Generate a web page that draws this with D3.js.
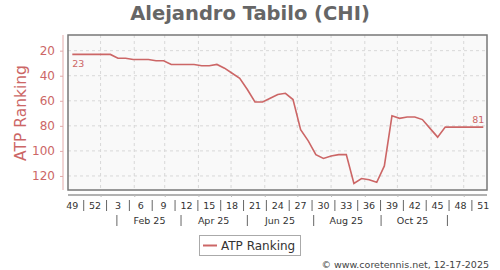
<!DOCTYPE html>
<html>
<head>
<meta charset="utf-8">
<script src="https://cdn.jsdelivr.net/npm/d3@7"></script>
<style>
  body { margin: 0; background: #fff; }
  svg { display: block; font-family: "DejaVu Sans", sans-serif; }
</style>
</head>
<body>
<svg id="chart" width="500" height="270"></svg>
<script>
// week numbers shown on the x axis (Dec 2024 .. Dec 2025)
const weeks = [49, 50, 51, 52, 1, 2, 3, 4, 5, 6, 7, 8, 9, 10, 11, 12, 13, 14, 15, 16,
  17, 18, 19, 20, 21, 22, 23, 24, 25, 26, 27, 28, 29, 30, 31, 32, 33, 34, 35, 36,
  37, 38, 39, 40, 41, 42, 43, 44, 45, 46, 47, 48, 49, 50, 51]
const ranking = [23, 23, 23, 23, 23, 23, 26, 26, 27, 27, 27, 28, 28, 31, 31, 31, 31, 32, 32, 31,
  34, 38, 42, 51, 61, 61, 58, 55, 54, 59, 83, 92, 103, 106, 104, 103, 103, 126, 122, 123,
  125, 112, 72, 74, 73, 73, 75, 82, 89, 81, 81, 81, 81, 81, 81]
const yTicks = [20, 40, 60, 80, 100, 120]
const monthLabels = ['Feb 25', 'Apr 25', 'Jun 25', 'Aug 25', 'Oct 25']
const firstWeek = new Date(2024, 11, 6)

const red = '#cc6666'
const svg = d3.select('#chart')

const dates = weeks.map((w, i) => d3.timeDay.offset(firstWeek, 7 * i))
const x = d3.scaleTime().domain([dates[0], dates[dates.length - 1]]).range([72.3, 483.3])
const y = d3.scaleLinear().domain([7.5, 131.2]).range([35, 190])

const plot = { left: 68, right: 487, top: 35, bottom: 190 }

// title
svg.append('text')
  .attr('x', 250).attr('y', 20)
  .attr('text-anchor', 'middle')
  .attr('font-size', 19.5).attr('font-weight', 'bold')
  .attr('fill', '#666')
  .text('Alejandro Tabilo (CHI)')

// plot background
svg.append('rect')
  .attr('x', plot.left).attr('y', plot.top)
  .attr('width', plot.right - plot.left).attr('height', plot.bottom - plot.top)
  .attr('fill', '#f9f9f9')

// grid
const monthTicks = x.ticks(d3.timeMonth.every(1)).filter(d => x(d) > plot.left && x(d) < plot.right)
svg.append('g').selectAll('line.v')
  .data(monthTicks).enter().append('line')
  .attr('x1', d => x(d)).attr('x2', d => x(d))
  .attr('y1', plot.top).attr('y2', plot.bottom)
  .attr('stroke', '#d8d8d8').attr('stroke-dasharray', '3,3')
svg.append('g').selectAll('line.h')
  .data(yTicks).enter().append('line')
  .attr('x1', plot.left).attr('x2', plot.right)
  .attr('y1', d => y(d)).attr('y2', d => y(d))
  .attr('stroke', '#d8d8d8').attr('stroke-dasharray', '3,3')

svg.append('rect')
  .attr('x', plot.left).attr('y', plot.top)
  .attr('width', plot.right - plot.left).attr('height', plot.bottom - plot.top)
  .attr('fill', 'none').attr('stroke', '#777').attr('stroke-width', 1.5)

// y axis
const yAxis = svg.append('g').attr('transform', 'translate(63,0)')
  .call(d3.axisLeft(y).tickValues(yTicks).tickSize(3).tickPadding(5))
yAxis.select('.domain').attr('stroke', '#e2aaaa').attr('d', `M0,${plot.top}V${plot.bottom}`)
yAxis.selectAll('.tick line').attr('stroke', '#e2aaaa')
yAxis.selectAll('.tick text').attr('fill', red).attr('font-size', 12)
  .attr('font-family', '"DejaVu Sans", sans-serif')

svg.append('text')
  .attr('transform', 'translate(26,113) rotate(-90)')
  .attr('text-anchor', 'middle')
  .attr('font-size', 15.5).attr('fill', red)
  .text('ATP Ranking')

// x axis
const xAxis = svg.append('g').attr('transform', 'translate(0,195)')
  .call(d3.axisBottom(x).tickValues(monthTicks).tickSize(2).tickFormat(''))
xAxis.select('.domain').attr('stroke', '#999').attr('stroke-width', 1.5)
  .attr('d', `M${plot.left},0H${plot.right}`)
xAxis.selectAll('.tick line').attr('stroke', '#bbb')

const weekIdx = d3.range(0, weeks.length, 3)
svg.append('g').selectAll('text')
  .data(weekIdx).enter().append('text')
  .attr('x', i => x(dates[i])).attr('y', 209)
  .attr('text-anchor', 'middle').attr('font-size', 9.5).attr('fill', '#333')
  .text(i => weeks[i])
svg.append('g').selectAll('line')
  .data(weekIdx.slice(1)).enter().append('line')
  .attr('x1', i => (x(dates[i]) + x(dates[i - 3])) / 2)
  .attr('x2', i => (x(dates[i]) + x(dates[i - 3])) / 2)
  .attr('y1', 200).attr('y2', 211)
  .attr('stroke', '#666')

// month labels: centred on the 15th, separators on the 16th of odd months
const sepDates = d3.range(0, 11, 2).map(m => new Date(2025, m, 16))
const labelDates = monthLabels.map((t, i) => new Date(2025, 1 + 2 * i, 15))
svg.append('g').selectAll('text')
  .data(monthLabels).enter().append('text')
  .attr('x', (t, i) => x(labelDates[i])).attr('y', 224)
  .attr('text-anchor', 'middle').attr('font-size', 9.5).attr('fill', '#333')
  .text(t => t)
svg.append('g').selectAll('line')
  .data(sepDates).enter().append('line')
  .attr('x1', d => x(d)).attr('x2', d => x(d))
  .attr('y1', 215).attr('y2', 226)
  .attr('stroke', '#666')

// line
const line = d3.line().x((d, i) => x(dates[i])).y(d => y(d))
svg.append('path')
  .datum(ranking)
  .attr('d', line)
  .attr('fill', 'none').attr('stroke', red).attr('stroke-width', 1.6)

// first/last value labels
const last = ranking.length - 1
svg.append('text')
  .attr('x', x(dates[0])).attr('y', y(ranking[0]) + 13)
  .attr('font-size', 9.5).attr('fill', red)
  .text(ranking[0])
svg.append('text')
  .attr('x', x(dates[last]) + 1).attr('y', y(ranking[last]) - 4)
  .attr('text-anchor', 'end')
  .attr('font-size', 9.5).attr('fill', red)
  .text(ranking[last])

// legend
const legend = svg.append('g')
legend.append('rect')
  .attr('x', 199.5).attr('y', 235.5).attr('width', 101).attr('height', 20)
  .attr('fill', '#fff').attr('stroke', '#aaa')
legend.append('line')
  .attr('x1', 203).attr('x2', 217).attr('y1', 245.5).attr('y2', 245.5)
  .attr('stroke', red).attr('stroke-width', 2)
legend.append('text')
  .attr('x', 221).attr('y', 250)
  .attr('font-size', 12).attr('fill', '#333')
  .text('ATP Ranking')

// footer
svg.append('text')
  .attr('x', 489).attr('y', 268)
  .attr('text-anchor', 'end')
  .attr('font-size', 9.5).attr('fill', '#444')
  .text('© www.coretennis.net, 12-17-2025')
</script>
</body>
</html>
